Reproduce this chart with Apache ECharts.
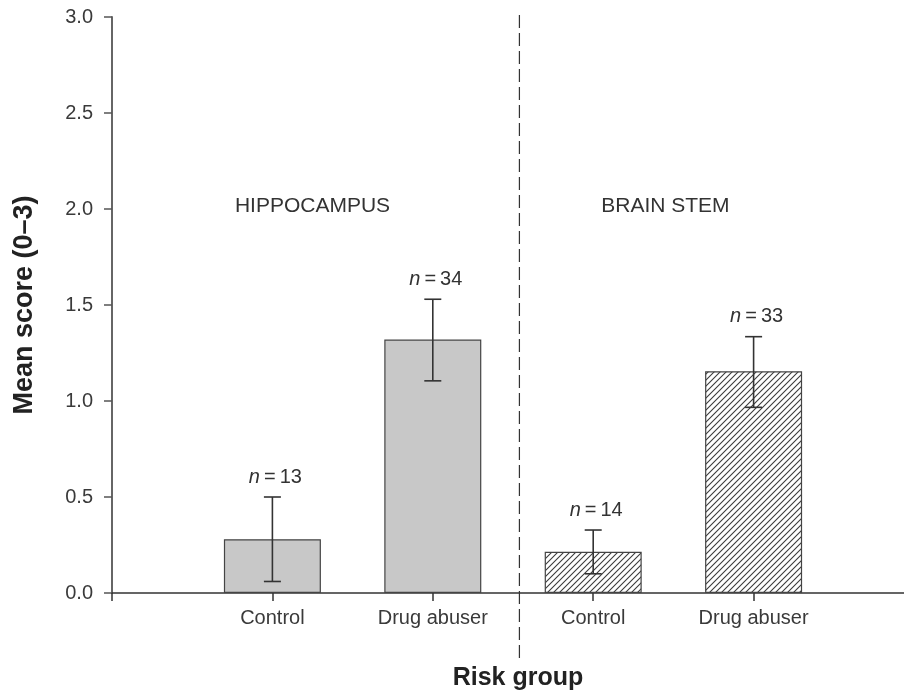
<!DOCTYPE html>
<html>
<head>
<meta charset="utf-8">
<script src="https://cdn.jsdelivr.net/npm/echarts@6/dist/echarts.min.js"></script>
<style>
html,body{margin:0;padding:0;background:#fff;}
#chart{width:904px;height:694px;}
</style>
</head>
<body>
<div id="chart"></div>
<script>
// ---- data ----
const categories = ['Control', 'Drug abuser', 'Control', 'Drug abuser'];
const xPositions = [1, 2, 3, 4];
const regionOfBar = [0, 0, 1, 1];
const meanScores = [0.28, 1.32, 0.215, 1.155];
const errLow = [0.06, 1.105, 0.10, 0.967];
const errHigh = [0.50, 1.53, 0.328, 1.335];
const sampleSizes = [13, 34, 14, 33];
const regions = ['HIPPOCAMPUS', 'BRAIN STEM'];
const regionLabelX = [1.25, 3.45];
const regionLabelY = [2.015, 2.015];
const dividerX = 2.54;
const yMin = 0, yMax = 3, yStep = 0.5;
const xMin = 0, xMax = 5, xStep = 1;

// ---- hatch pattern ----
function makeHatch() {
  const s = 6;
  const c = document.createElement('canvas');
  c.width = s; c.height = s;
  const g = c.getContext('2d');
  g.fillStyle = '#ffffff';
  g.fillRect(0, 0, s, s);
  g.strokeStyle = '#3c3c3c';
  g.lineWidth = 1.1;
  g.beginPath();
  g.moveTo(-1, s + 1); g.lineTo(s + 1, -1);
  g.moveTo(-1, 1); g.lineTo(1, -1);
  g.moveTo(s - 1, s + 1); g.lineTo(s + 1, s - 1);
  g.stroke();
  return c;
}
const hatch = makeHatch();
const FONT = 'Liberation Sans, Arial, Helvetica, sans-serif';

const barData = xPositions.map((x, i) => ({
  value: [x, meanScores[i]],
  itemStyle: regionOfBar[i] === 0
    ? { color: '#c8c8c8', borderColor: '#444', borderWidth: 1.2 }
    : { color: { image: hatch, repeat: 'repeat' }, borderColor: '#444', borderWidth: 1.2 }
}));
const errData = xPositions.map((x, i) => [x, errLow[i], errHigh[i], sampleSizes[i]]);
const regionData = regions.map((r, i) => ({ value: [regionLabelX[i], regionLabelY[i]], name: r }));

const chart = echarts.init(document.getElementById('chart'), null, { renderer: 'canvas' });
chart.setOption({
  animation: false,
  backgroundColor: '#ffffff',
  grid: { left: 112, right: -10, top: 17, bottom: 101, outerBoundsMode: 'none', containLabel: false },
  xAxis: {
    type: 'value', min: xMin, max: xMax, interval: xStep,
    splitLine: { show: false },
    axisLine: { show: true, lineStyle: { color: '#333', width: 1.5 } },
    axisTick: { show: true, length: 8, lineStyle: { color: '#333', width: 1.5 } },
    axisLabel: {
      show: true, margin: 15, color: '#3a3a3a', fontSize: 20, fontFamily: FONT,
      formatter: v => { const k = xPositions.indexOf(v); return k >= 0 ? categories[k] : ''; }
    },
    name: 'Risk group', nameLocation: 'middle', nameGap: 73,
    nameTextStyle: { color: '#222', fontSize: 25, fontWeight: 'bold', fontFamily: FONT, padding: [0, 0, 0, 10] }
  },
  yAxis: {
    type: 'value', min: yMin, max: yMax, interval: yStep,
    splitLine: { show: false },
    axisLine: { show: true, onZero: false, lineStyle: { color: '#666', width: 2 } },
    axisTick: { show: true, length: 8, lineStyle: { color: '#555', width: 1.5 } },
    axisLabel: { margin: 19, color: '#3a3a3a', fontSize: 20, fontFamily: FONT, formatter: v => v.toFixed(1) },
    name: 'Mean score (0\u20133)', nameLocation: 'middle', nameGap: 74, nameRotate: 90,
    nameTextStyle: { color: '#222', fontSize: 27, fontWeight: 'bold', fontFamily: FONT }
  },
  series: [
    {
      type: 'bar', data: barData, barWidth: 97, z: 2
    },
    {
      type: 'custom', z: 4, clip: false,
      data: errData,
      renderItem: function (params, api) {
        const x = api.value(0);
        const top = api.coord([x, api.value(2)]);
        const bot = api.coord([x, api.value(1)]);
        const half = 8.5;
        const ls = { stroke: '#333', lineWidth: 1.6 };
        return {
          type: 'group',
          children: [
            { type: 'line', shape: { x1: top[0], y1: top[1], x2: bot[0], y2: bot[1] }, style: ls },
            { type: 'line', shape: { x1: top[0] - half, y1: top[1], x2: top[0] + half, y2: top[1] }, style: ls },
            { type: 'line', shape: { x1: bot[0] - half, y1: bot[1], x2: bot[0] + half, y2: bot[1] }, style: ls },
            {
              type: 'text',
              style: {
                x: top[0] + 3, y: top[1] - 20,
                text: '{i|n}{r|\u2009=\u2009' + api.value(3) + '}',
                align: 'center', verticalAlign: 'middle',
                rich: {
                  i: { fontStyle: 'italic', fontSize: 20, fontFamily: FONT, fill: '#333' },
                  r: { fontSize: 20, fontFamily: FONT, fill: '#333' }
                }
              }
            }
          ]
        };
      }
    },
    {
      type: 'custom', z: 1, clip: false,
      data: [[dividerX]],
      renderItem: function (params, api) {
        const x = api.value(0);
        const t = api.coord([x, yMax]);
        const b = api.coord([x, yMin]);
        return {
          type: 'line',
          shape: { x1: t[0], y1: t[1] - 2, x2: b[0], y2: b[1] + 69 },
          style: { stroke: '#333', lineWidth: 1.2, lineDash: [13, 5] }
        };
      }
    },
    {
      type: 'scatter', symbolSize: 0, z: 3,
      data: regionData,
      itemStyle: { opacity: 1 },
      label: {
        show: true, position: 'inside', formatter: p => p.name, opacity: 1,
        color: '#333', fontSize: 21, fontFamily: FONT
      },
      emphasis: { disabled: true }, silent: true
    }
  ]
});
</script>
</body>
</html>
